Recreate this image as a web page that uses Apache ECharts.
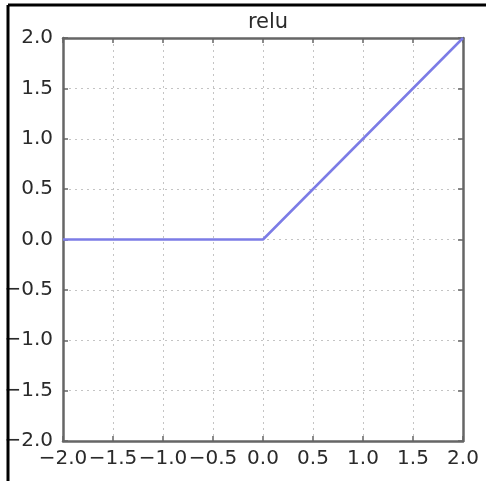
<!DOCTYPE html>
<html>
<head>
<meta charset="utf-8">
<script src="https://cdn.jsdelivr.net/npm/echarts@6/dist/echarts.min.js"></script>
<style>html,body{margin:0;padding:0;background:#fff;}#c{width:486px;height:483px;}</style>
</head>
<body>
<div id="c"></div>
<script>
const titleText = "relu";
const xValues = [-2.0, 0.0, 2.0];
const yValues = [0.0, 0.0, 2.0];
const tickMin = -2.0, tickMax = 2.0, tickStep = 0.5;

const chart = echarts.init(document.getElementById('c'), null, {renderer: 'canvas'});
const fmt = v => (v < 0 ? '\u2212' : '') + Math.abs(v).toFixed(1);
const FONT = 'DejaVu Sans';
const axisLineStyle = {color: '#666', width: 2.5};
const baseAxis = {
  type: 'value', min: tickMin, max: tickMax, interval: tickStep,
  axisLine: {show: true, onZero: false, lineStyle: axisLineStyle},
  axisTick: {show: true, inside: true, length: 5, lineStyle: {color: '#666', width: 1.5}},
  splitLine: {show: false}
};
const option = {
  animation: false,
  backgroundColor: '#fff',
  title: {text: titleText, left: 263, textAlign: 'center', top: 7,
    textStyle: {fontFamily: FONT, fontSize: 21, fontWeight: 'normal', color: '#2a2a2a'}},
  grid: {left: 63, top: 38, right: 23, bottom: 42},
  xAxis: [
    Object.assign({}, baseAxis, {position: 'bottom',
      axisLabel: {show: true, formatter: fmt, margin: 8, fontFamily: FONT, fontSize: 20, color: '#2a2a2a',
        showMinLabel: true, showMaxLabel: true, hideOverlap: false},
      splitLine: {show: true, lineStyle: {color: '#c4c4c4', type: [2, 4], width: 1}}}),
    Object.assign({}, baseAxis, {position: 'top', axisLabel: {show: false}})
  ],
  yAxis: [
    Object.assign({}, baseAxis, {position: 'left',
      axisLabel: {show: true, formatter: fmt, margin: 10, fontFamily: FONT, fontSize: 20, color: '#2a2a2a',
        showMinLabel: true, showMaxLabel: true, hideOverlap: false},
      splitLine: {show: true, lineStyle: {color: '#c4c4c4', type: [2, 4], width: 1}}}),
    Object.assign({}, baseAxis, {position: 'right', axisLabel: {show: false}})
  ],
  series: [{
    type: 'line', xAxisIndex: 0, yAxisIndex: 0,
    data: xValues.map((x, i) => [x, yValues[i]]),
    showSymbol: false, symbol: 'none',
    lineStyle: {color: '#7c7ce6', width: 2.5},
    z: 1
  }],
  graphic: [
    {type: 'line', shape: {x1: 8, y1: 5, x2: 486, y2: 5}, style: {stroke: '#000', lineWidth: 3}, z: 100},
    {type: 'line', shape: {x1: 8, y1: 5, x2: 8, y2: 481}, style: {stroke: '#000', lineWidth: 3}, z: 100}
  ]
};
chart.setOption(option);
</script>
</body>
</html>
